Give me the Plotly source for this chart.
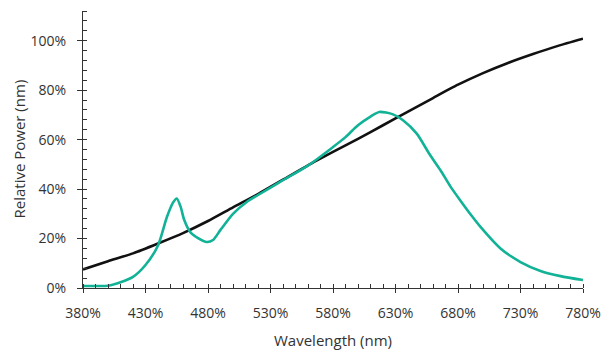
import plotly.graph_objects as go

# ─── Data ─────────────────────────────────────────────────────────────────────

REF_NM = [380, 400, 420, 440, 460, 480, 500, 520, 540, 560, 580,
          600, 620, 640, 660, 680, 700, 720, 740, 760, 780]
REF_PCT = [7.5, 10.8, 14.0, 18.0, 22.2, 27.1, 32.6, 38.0, 43.8, 49.6, 55.0,
           60.3, 65.8, 71.3, 76.8, 82.2, 86.9, 91.0, 94.6, 97.9, 100.8]

LED_NM = [380, 390, 400, 410, 420, 430, 440, 447, 452, 455, 458, 461, 466,
          472, 479, 484, 490, 500, 511, 520, 540, 560, 580, 590, 600, 610,
          617, 628, 636, 647, 657, 666, 674, 682, 690, 698, 714, 730, 746,
          762, 780]
LED_PCT = [0.8, 0.8, 0.9, 2.3, 4.5, 9.3, 17.2, 28.5, 34.5, 36.2, 33.0, 27.5,
           22.5, 20.2, 18.6, 19.4, 23.5, 30.0, 34.8, 37.6, 43.6, 49.5, 57.0,
           61.0, 65.8, 69.3, 71.2, 70.2, 67.8, 62.4, 54.3, 47.6, 41.0, 35.3,
           29.8, 24.7, 16.0, 10.5, 6.9, 4.8, 3.2]

X_TICKS = list(range(380, 781, 50))
X_LABELS = [f"{v}%" for v in X_TICKS]
Y_TICKS = [0, 20, 40, 60, 80, 100]
Y_LABELS = [f"{v}%" for v in Y_TICKS]

# ─── Style ────────────────────────────────────────────────────────────────────

TEAL = "#12b297"
INK = "#111111"
AXIS = "#333333"
TEXT = "#333333"
FONT = "Open Sans, sans-serif"

fig = go.Figure()

fig.add_trace(go.Scatter(
    x=REF_NM, y=REF_PCT, mode="lines",
    line=dict(color=INK, width=2.6, shape="spline", smoothing=0.6),
    showlegend=False, hoverinfo="skip",
))
fig.add_trace(go.Scatter(
    x=LED_NM, y=LED_PCT, mode="lines",
    line=dict(color=TEAL, width=2.6, shape="spline", smoothing=0.7),
    showlegend=False, hoverinfo="skip",
))

axis_common = dict(
    showgrid=False, zeroline=False, showline=True, automargin=False,
    linecolor=AXIS, linewidth=1.2, tickcolor=AXIS, tickwidth=1.2,
)

fig.update_layout(
    width=603, height=355,
    margin=dict(l=83, r=20, t=11, b=67),
    paper_bgcolor="white", plot_bgcolor="white",
    font=dict(family=FONT, color=TEXT, size=14),
    xaxis=dict(
        **axis_common, range=[380, 780],
        tickvals=X_TICKS, ticktext=X_LABELS,
        ticks="outside", ticklen=4, ticklabelstandoff=8,
        minor=dict(dtick=10, tick0=380, ticks="inside", ticklen=4,
                   tickcolor=AXIS, tickwidth=1),
    ),
    yaxis=dict(
        **axis_common, range=[0, 112],
        tickvals=Y_TICKS, ticktext=Y_LABELS,
        ticks="outside", ticklen=5, ticklabelstandoff=8,
        minor=dict(dtick=4, tick0=0, ticks="inside", ticklen=4,
                   tickcolor=AXIS, tickwidth=1),
    ),
    # overlay axes so the major ticks cross the axis line
    xaxis2=dict(
        overlaying="x", matches="x", anchor="y", side="bottom",
        showgrid=False, zeroline=False, showline=False, automargin=False,
        tickvals=X_TICKS, showticklabels=False,
        ticks="inside", ticklen=4, tickcolor=AXIS, tickwidth=1.2,
    ),
    yaxis2=dict(
        overlaying="y", matches="y", anchor="x", side="left",
        showgrid=False, zeroline=False, showline=False, automargin=False,
        tickvals=Y_TICKS, showticklabels=False,
        ticks="inside", ticklen=4, tickcolor=AXIS, tickwidth=1.2,
    ),
)

# invisible trace to bring the overlay axes to life
fig.add_trace(go.Scatter(
    x=[REF_NM[0]], y=[REF_PCT[0]], xaxis="x2", yaxis="y2",
    mode="markers", marker=dict(opacity=0),
    showlegend=False, hoverinfo="skip",
))

# axis titles placed by hand
fig.add_annotation(text="Wavelength (nm)", xref="paper", yref="paper",
                   x=0.5, y=0, xanchor="center", yanchor="middle",
                   yshift=-52, showarrow=False,
                   font=dict(size=15, color=TEXT))
fig.add_annotation(text="Relative Power (nm)", xref="paper", yref="paper",
                   x=0, y=0.5, xanchor="center", yanchor="middle",
                   xshift=-65, textangle=-90, showarrow=False,
                   font=dict(size=15, color=TEXT))

# drop the default page margin so the figure sits at the window's corner
fig.write_html("out.html", config={"displayModeBar": False},
               post_script="document.body.style.margin='0';")
